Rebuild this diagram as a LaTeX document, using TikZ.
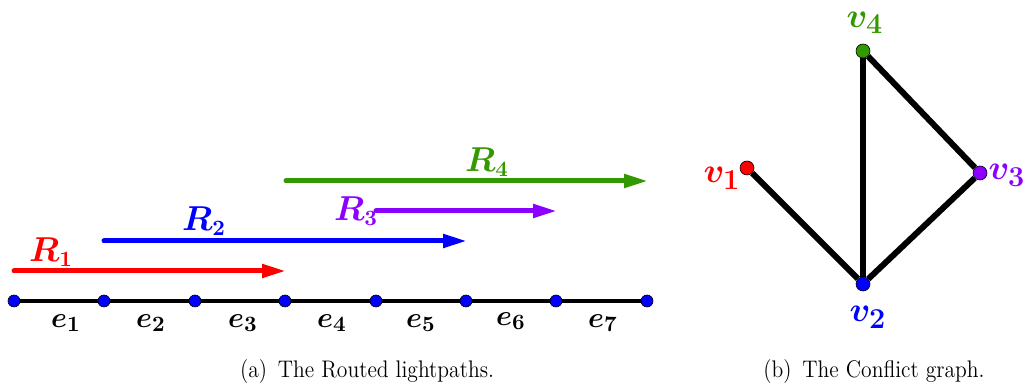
\documentclass[tikz,border=0pt]{standalone}
\usepackage{amsmath,bm}
\usetikzlibrary{arrows.meta}
\definecolor{cgreen}{RGB}{51,153,0}
\definecolor{cpurple}{RGB}{140,0,255}
\definecolor{cblue}{RGB}{0,0,255}
\definecolor{cred}{RGB}{255,0,0}
\begin{document}
\begin{tikzpicture}[x=0.5pt,y=-0.5pt,
  axisdot/.style={circle,draw=black,line width=0.3pt,fill=cblue,minimum size=6pt,inner sep=0pt},
  gdot/.style={circle,draw=black,line width=0.3pt,minimum size=7pt,inner sep=0pt},
  route/.style={line width=2.5pt,line cap=round,-{Triangle[length=12pt,width=6.5pt]}},
  rlabel/.style={inner sep=0pt,font=\fontsize{16}{18}\selectfont},
  elabel/.style={inner sep=0pt,font=\fontsize{15}{17}\selectfont},
  vlabel/.style={inner sep=0pt,font=\fontsize{19}{21}\selectfont},
  gedge/.style={line width=3pt},
  captext/.style={inner sep=0pt,anchor=base,font=\fontsize{12}{14}\selectfont}]
\useasboundingbox (0,0) rectangle (1028,383);
% axis
\foreach \i/\x in {0/14,1/104,2/195,3/285,4/376,5/466,6/556,7/647}
  \coordinate (p\i) at (\x,301);
\draw[line width=2pt] (p0) -- (p7);
\foreach \i in {0,...,7} \node[axisdot] (n\i) at (p\i) {};
\node[elabel] (e1) at (66,323) {$\bm{e_1}$};
\node[elabel] (e2) at (151,323) {$\bm{e_2}$};
\node[elabel] (e3) at (243,323) {$\bm{e_3}$};
\node[elabel] (e4) at (332,323) {$\bm{e_4}$};
\node[elabel] (e5) at (421,323) {$\bm{e_5}$};
\node[elabel] (e6) at (511,321) {$\bm{e_6}$};
\node[elabel] (e7) at (603,323) {$\bm{e_7}$};
% routes
\coordinate (r1s) at (14,271); \coordinate (r1e) at (286,271);
\coordinate (r2s) at (104,241); \coordinate (r2e) at (467,241);
\coordinate (r3s) at (376,211); \coordinate (r3e) at (557,211);
\coordinate (r4s) at (286,181); \coordinate (r4e) at (648,181);
\draw[route,cred] (r1s) -- (r1e);
\draw[route,cblue] (r2s) -- (r2e);
\draw[route,cpurple] (r3s) -- (r3e);
\draw[route,cgreen] (r4s) -- (r4e);
\node[rlabel,text=cred] (R1) at (51,252) {$\bm{R_1}$};
\node[rlabel,text=cblue] (R2) at (204,221) {$\bm{R_2}$};
\node[rlabel,text=cpurple] (R3) at (356,211) {$\bm{R_3}$};
\node[rlabel,text=cgreen] (R4) at (487,162) {$\bm{R_4}$};
% graph
\node[gdot,fill=cgreen] (v4) at (863,51) {};
\node[gdot,fill=cred] (v1) at (747,168) {};
\node[gdot,fill=cpurple] (v3) at (980,173) {};
\node[gdot,fill=cblue] (v2) at (863,284) {};
\draw[gedge] (v1) -- (v2);
\draw[gedge] (v4) -- (v2);
\draw[gedge] (v4) -- (v3);
\draw[gedge] (v3) -- (v2);
\node[vlabel,text=cgreen] (l4) at (865,23) {$\bm{v_4}$};
\node[vlabel,text=cred] (l1) at (722,178) {$\bm{v_1}$};
\node[vlabel,text=cpurple] (l3) at (1007,175) {$\bm{v_3}$};
\node[vlabel,text=cblue] (l2) at (868,317) {$\bm{v_2}$};
% captions
\node[captext] (ca) at (367,378) {\scalebox{0.9}[1]{(a)\enspace The Routed lightpaths.}};
\node[captext] (cb) at (874,378) {\scalebox{0.9}[1]{(b)\enspace The Conflict graph.}};
\end{tikzpicture}
\end{document}
